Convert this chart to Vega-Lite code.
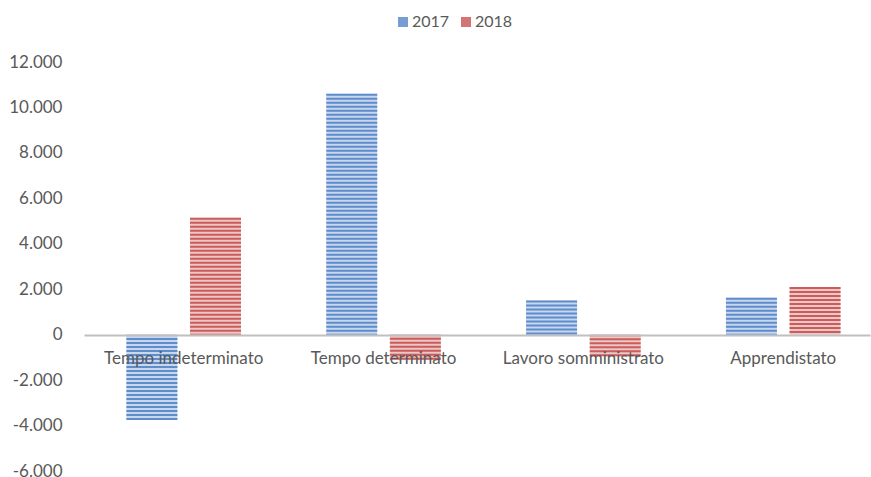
{
  "$schema": "https://vega.github.io/schema/vega-lite/v6.json",
  "width": 786,
  "height": 409,
  "autosize": "none",
  "padding": {"left": 84, "top": 62, "right": 1, "bottom": 6},
  "background": "white",
  "config": {
    "view": {"stroke": null},
    "font": "Lato",
    "locale": {"number": {"decimal": ",", "thousands": ".", "grouping": [3], "currency": ["€", ""], "minus": "-"}},
    "axis": {"labelFont": "Lato", "labelFontSize": 17, "labelColor": "#595959", "grid": false, "ticks": false, "tickSize": 0, "title": null},
    "legend": {"labelFont": "Lato", "labelFontSize": 16, "labelColor": "#595959"}
  },
  "data": {"values": [
    {"category": "Tempo indeterminato", "year": "2017", "value": -3750},
    {"category": "Tempo indeterminato", "year": "2018", "value": 5140},
    {"category": "Tempo determinato", "year": "2017", "value": 10600},
    {"category": "Tempo determinato", "year": "2018", "value": -1100},
    {"category": "Lavoro somministrato", "year": "2017", "value": 1500},
    {"category": "Lavoro somministrato", "year": "2018", "value": -950},
    {"category": "Apprendistato", "year": "2017", "value": 1630},
    {"category": "Apprendistato", "year": "2018", "value": 2100}
  ]},
  "encoding": {
    "x": {"field": "category", "type": "nominal", "sort": null,
      "scale": {"paddingInner": 0.427, "paddingOuter": 0.18, "align": 0.59},
      "axis": {"orient": "bottom", "offset": -136, "labelAngle": 0, "labelPadding": 15, "domain": true, "domainColor": "#C0C0C0", "domainWidth": 2, "zindex": 1}},
    "xOffset": {"field": "year", "type": "nominal", "scale": {"paddingInner": 0.2, "paddingOuter": 0}},
    "y": {"field": "value", "type": "quantitative",
      "scale": {"domain": [-6000, 12000], "nice": false, "zero": false},
      "axis": {"values": [-6000, -4000, -2000, 0, 2000, 4000, 6000, 8000, 10000, 12000], "format": ",d", "domain": false, "labelPadding": 22}}
  },
  "layer": [
    {
      "mark": {"type": "bar", "fillOpacity": 0.35},
      "encoding": {
        "y2": {"datum": 0},
        "color": {"field": "year", "type": "nominal",
          "scale": {"domain": ["2017", "2018"], "range": ["#5F8CCB", "#CC5C5C"]},
          "legend": {"title": null, "orient": "none", "direction": "horizontal", "legendX": 311, "legendY": -48, "symbolType": "square", "symbolSize": 100, "symbolStrokeWidth": 0, "symbolOpacity": 0.85, "columnPadding": 8, "labelOffset": 1}}
      }
    },
    {
      "mark": {"type": "rule", "strokeWidth": 51, "strokeDash": [2, 2], "strokeCap": "butt"},
      "encoding": {
        "y2": {"datum": 0},
        "stroke": {"field": "year", "type": "nominal",
          "scale": {"domain": ["2017", "2018"], "range": ["#5F8CCB", "#CC5C5C"]},
          "legend": null}
      }
    }
  ]
}
